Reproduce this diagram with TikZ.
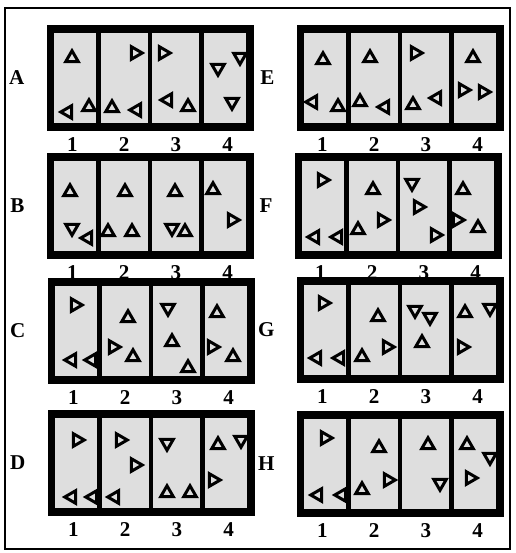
\documentclass[tikz,border=0pt]{standalone}
\usepackage{fontspec}
\setmainfont{Liberation Serif}
\usetikzlibrary{shapes.geometric, positioning, calc}

\begin{document}
\begin{tikzpicture}[
            x=0.02cm, y=-0.02cm,
            every node/.style={font=\fontsize{12}{14}\selectfont\bfseries},
            panel/.style={
                    rectangle,
                    draw,
                    line width=4pt,
                    fill=black!13,
                    minimum width=4.0cm,
                    minimum height=1.96cm,
                    inner sep=0pt
                },
            divider/.style={
                    line width=2.8pt
                },
            rowlabel/.style={
                    inner sep=1pt
                },
            cellnum/.style={
                    inner sep=1pt
                },
            tri/.style={
                    regular polygon,
                    regular polygon sides=3,
                    draw,
                    line width=1.7pt,
                    fill=black!13,
                    minimum size=0.29cm,
                    inner sep=0pt
                }
            ]

            \useasboundingbox (0,0) rectangle (515,553);

            % Rahmen
            \draw [line width=1.2pt] (5,8) rectangle (510,549);

            % Felder
            \foreach \nm/\cx/\cy in {A/150/78, B/150/206, C/151/331, D/151/463,
                                     E/400/78, F/398/206, G/400/330, H/400/464} {
                \node (box\nm) [panel] at (\cx,\cy) {};
                \node (lab\nm) [rowlabel, left=0.4cm of box\nm] {\nm};
                \foreach \i in {1,2,3}
                    \draw [divider] ($(box\nm.north west)!\i/4!(box\nm.north east)$)
                        -- ($(box\nm.south west)!\i/4!(box\nm.south east)$);
                \foreach \i in {1,...,4}
                    \node (num\nm\i) [cellnum] at ($(box\nm.south west)!{(\i-0.5)/4}!(box\nm.south east)+(0,14)$) {\i};
            }

            % Dreiecke (Drehung: 0 oben, 180 unten, -90 rechts, 90 links)
            \foreach \n/\x/\y/\r in {A1a/72/58/0, A1b/68/112/90, A1c/89/107/0,
                                     A2a/135/53/-90, A2b/112/108/0, A2c/137/110/90,
                                     A3a/163/53/-90, A3b/168/100/90, A3c/188/107/0,
                                     A4a/218/68/180, A4b/240/57/180, A4c/232/102/180}
                \node (\n) [tri, rotate=\r] at (\x,\y) {};

            \foreach \n/\x/\y/\r in {B1a/70/192/0, B1b/72/228/180, B1c/88/238/90,
                                     B2a/125/192/0, B2b/108/232/0, B2c/132/232/0,
                                     B3a/175/192/0, B3b/172/228/180, B3c/185/232/0,
                                     B4a/213/190/0, B4b/232/220/-90}
                \node (\n) [tri, rotate=\r] at (\x,\y) {};

            \foreach \n/\x/\y/\r in {C1a/75/305/-90, C1b/72/360/90, C1c/92/360/90,
                                     C2a/128/318/0, C2b/113/347/-90, C2c/133/357/0,
                                     C3a/168/308/180, C3b/172/342/0, C3c/188/368/0,
                                     C4a/217/313/0, C4b/212/347/-90, C4c/233/357/0}
                \node (\n) [tri, rotate=\r] at (\x,\y) {};

            \foreach \n/\x/\y/\r in {D1a/77/440/-90, D1b/72/497/90, D1c/93/497/90,
                                     D2a/120/440/-90, D2b/135/465/-90, D2c/115/497/90,
                                     D3a/167/443/180, D3b/167/493/0, D3c/190/493/0,
                                     D4a/218/445/0, D4b/241/440/180, D4c/213/480/-90}
                \node (\n) [tri, rotate=\r] at (\x,\y) {};

            \foreach \n/\x/\y/\r in {E1a/323/60/0, E1b/313/102/90, E1c/338/107/0,
                                     E2a/370/58/0, E2b/360/102/0, E2c/385/107/90,
                                     E3a/415/53/-90, E3b/413/105/0, E3c/437/98/90,
                                     E4a/473/58/0, E4b/463/90/-90, E4c/483/92/-90}
                \node (\n) [tri, rotate=\r] at (\x,\y) {};

            \foreach \n/\x/\y/\r in {F1a/322/180/-90, F1b/315/237/90, F1c/338/237/90,
                                     F2a/373/190/0, F2b/358/230/0, F2c/382/220/-90,
                                     F3a/412/183/180, F3b/418/207/-90, F3c/435/235/-90,
                                     F4a/463/190/0, F4b/457/220/-90, F4c/478/228/0}
                \node (\n) [tri, rotate=\r] at (\x,\y) {};

            \foreach \n/\x/\y/\r in {G1a/323/303/-90, G1b/317/358/90, G1c/340/358/90,
                                     G2a/378/317/0, G2b/362/357/0, G2c/387/347/-90,
                                     G3a/415/310/180, G3b/430/317/180, G3c/422/343/0,
                                     G4a/465/313/0, G4b/490/308/180, G4c/462/347/-90}
                \node (\n) [tri, rotate=\r] at (\x,\y) {};

            \foreach \n/\x/\y/\r in {H1a/325/438/-90, H1b/318/495/90, H1c/342/495/90,
                                     H2a/379/448/0, H2b/362/490/0, H2c/388/480/-90,
                                     H3a/428/445/0, H3b/440/483/180,
                                     H4a/467/445/0, H4b/490/457/180, H4c/470/478/-90}
                \node (\n) [tri, rotate=\r] at (\x,\y) {};

        \end{tikzpicture}
\end{document}
